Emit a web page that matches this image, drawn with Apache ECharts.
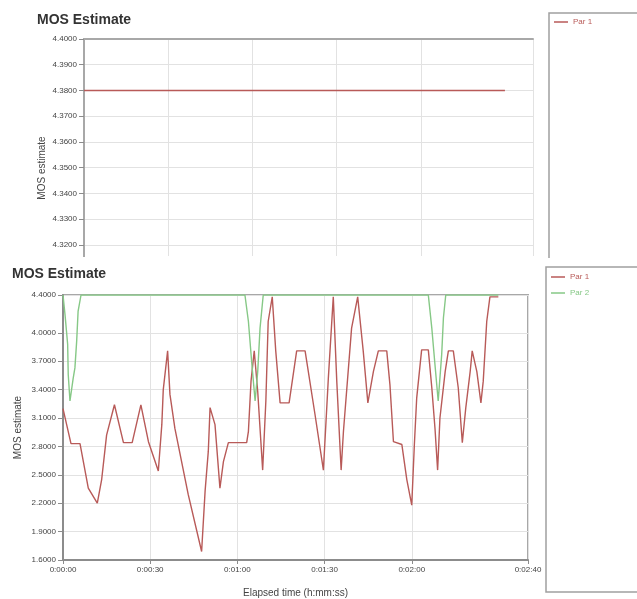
<!DOCTYPE html>
<html>
<head>
<meta charset="utf-8">
<script src="https://cdn.jsdelivr.net/npm/echarts@6/dist/echarts.min.js"></script>
<style>
html,body{margin:0;padding:0;background:#fff;}
#c{width:637px;height:599px;}
</style>
</head>
<body>
<div id="c"></div>
<script>
// ---- data ----
var xTickValues = [0, 30, 60, 90, 120, 160];
var topYTickValues = [4.32, 4.33, 4.34, 4.35, 4.36, 4.37, 4.38, 4.39, 4.40];
var bottomYTickValues = [1.6, 1.9, 2.2, 2.5, 2.8, 3.1, 3.4, 3.7, 4.0, 4.4];

var topPar1Times = [0, 150];
var topPar1Values = [4.38, 4.38];

var par1Times = [0, 2.75, 5.85, 8.7, 11.8, 13.3, 15.0, 17.7, 20.8, 23.8, 26.8, 29.4, 32.8, 34.0, 34.5, 36.0, 36.8, 38.5, 43.1, 47.7, 48.9, 50.0, 50.6, 51.2, 52.3, 54.0, 55.2, 56.9, 63.2, 63.8, 64.7, 65.8, 67.0, 68.7, 69.8, 70.6, 72.0, 73.2, 74.7, 77.8, 80.4, 83.3, 86.7, 89.6, 91.3, 93.0, 94.2, 95.7, 96.5, 99.3, 101.4, 103.3, 104.9, 106.8, 108.5, 111.4, 112.5, 113.7, 116.6, 118.3, 120.0, 120.9, 121.7, 123.4, 125.7, 126.9, 128.0, 128.9, 129.7, 131.5, 132.6, 134.3, 136.0, 137.4, 138.6, 140.1, 140.8, 142.4, 143.8, 144.6, 145.8, 146.9, 149.8];
var par1Values = [3.20, 2.83, 2.83, 2.36, 2.20, 2.45, 2.92, 3.24, 2.84, 2.84, 3.24, 2.85, 2.54, 3.03, 3.40, 3.81, 3.35, 2.99, 2.29, 1.69, 2.33, 2.75, 3.21, 3.22, 3.03, 2.36, 2.64, 2.84, 2.84, 2.96, 3.49, 3.81, 3.38, 2.55, 3.28, 4.12, 4.38, 3.81, 3.26, 3.26, 3.81, 3.81, 3.14, 2.55, 3.52, 4.38, 3.49, 2.55, 2.96, 4.05, 4.38, 3.81, 3.26, 3.59, 3.81, 3.81, 3.45, 2.85, 2.82, 2.45, 2.18, 2.82, 3.31, 3.82, 3.82, 3.42, 2.99, 2.55, 3.10, 3.59, 3.81, 3.81, 3.42, 2.84, 3.21, 3.59, 3.81, 3.59, 3.26, 3.49, 4.12, 4.38, 4.38];

var par2Times = [0, 0.7, 1.6, 1.8, 2.4, 3.5, 4.1, 4.7, 5.2, 6.2, 62.6, 63.8, 64.9, 66.1, 67.0, 67.8, 68.9, 125.7, 126.9, 128.0, 129.1, 130.3, 130.9, 131.7, 149.8];
var par2Values = [4.40, 4.19, 3.88, 3.56, 3.28, 3.52, 3.63, 3.91, 4.23, 4.40, 4.40, 4.12, 3.70, 3.28, 3.59, 4.05, 4.40, 4.40, 4.05, 3.66, 3.28, 3.77, 4.16, 4.40, 4.40];

// ---- helpers ----
function zip(a, b) { return a.map(function (v, i) { return [v, b[i]]; }); }
function hms(s) {
  var h = Math.floor(s / 3600), m = Math.floor((s % 3600) / 60), sec = Math.round(s % 60);
  return h + ':' + (m < 10 ? '0' : '') + m + ':' + (sec < 10 ? '0' : '') + sec;
}
var RED = '#b85a58', GREEN = '#86c886';
var FONT = 'Liberation Sans, Arial, sans-serif';
var GRID_LINE = '#e2e2e2', AXIS_LINE = '#8c8c8c', BORDER = '#a8a8a8';

var chart = echarts.init(document.getElementById('c'), null, {renderer: 'canvas'});
chart.setOption({
  animation: false,
  textStyle: {fontFamily: FONT},
  title: [
    {text: 'MOS Estimate', left: 37, top: 13, padding: 0,
     textStyle: {fontSize: 14, fontWeight: 'bold', color: '#333', fontFamily: FONT}},
    {text: 'MOS Estimate', left: 12, top: 267, padding: 0,
     textStyle: {fontSize: 14, fontWeight: 'bold', color: '#333', fontFamily: FONT}}
  ],
  legend: [
    {left: 554, top: 18, padding: 0, itemWidth: 14, itemHeight: 1.5, icon: 'rect',
     data: [{name: 'Par 1', textStyle: {color: RED}}],
     textStyle: {fontSize: 8, fontFamily: FONT}, selectedMode: false},
    {left: 551, top: 273, padding: 0, orient: 'vertical', itemGap: 8, itemWidth: 14, itemHeight: 1.5, icon: 'rect',
     data: [{name: 'Par 1', textStyle: {color: RED}}, {name: 'Par 2', textStyle: {color: GREEN}}],
     textStyle: {fontSize: 8, fontFamily: FONT}, selectedMode: false}
  ],
  grid: [
    {left: 84, top: 39, right: 104, bottom: 343, show: false},
    {left: 63, top: 295, right: 109, bottom: 39, show: true, borderColor: BORDER, borderWidth: 2}
  ],
  xAxis: [
    {type: 'value', gridIndex: 0, min: 0, max: 160,
     axisLine: {show: false}, axisTick: {show: false, customValues: xTickValues},
     axisLabel: {show: false, customValues: xTickValues},
     splitLine: {show: true, lineStyle: {color: GRID_LINE, width: 1}}},
    {type: 'value', gridIndex: 0, position: 'top', min: 0, max: 160,
     axisLine: {show: true, lineStyle: {color: BORDER, width: 2}},
     axisTick: {show: false}, axisLabel: {show: false}, splitLine: {show: false}},
    {type: 'value', gridIndex: 1, min: 0, max: 160,
     name: 'Elapsed time (h:mm:ss)', nameLocation: 'middle', nameGap: 28,
     nameTextStyle: {fontSize: 10, color: '#444', fontFamily: FONT},
     axisLine: {show: true, onZero: false, lineStyle: {color: AXIS_LINE, width: 2}},
     axisTick: {show: true, length: 4, customValues: xTickValues, lineStyle: {color: AXIS_LINE}},
     axisLabel: {fontSize: 8, color: '#444', margin: 6, customValues: xTickValues, formatter: function (v) { return hms(v); }},
     splitLine: {show: true, lineStyle: {color: GRID_LINE, width: 1}}}
  ],
  yAxis: [
    {type: 'value', gridIndex: 0, min: 4.3157, max: 4.40,
     axisLine: {show: true, lineStyle: {color: AXIS_LINE, width: 2}},
     axisTick: {show: true, length: 5, customValues: topYTickValues, lineStyle: {color: AXIS_LINE}},
     axisLabel: {fontSize: 8, color: '#444', margin: 7, customValues: topYTickValues, formatter: function (v) { return v.toFixed(4); }},
     splitLine: {show: true, lineStyle: {color: GRID_LINE, width: 1}}},
    {type: 'value', gridIndex: 0, position: 'right', min: 4.3157, max: 4.40,
     axisLine: {show: true, lineStyle: {color: BORDER, width: 2}},
     axisTick: {show: false}, axisLabel: {show: false}, splitLine: {show: false}},
    {type: 'value', gridIndex: 1, min: 1.6, max: 4.4,
     name: 'MOS estimate', nameLocation: 'middle', nameGap: 40, nameMoveOverlap: false,
     nameTextStyle: {fontSize: 10, color: '#444', fontFamily: FONT},
     axisLine: {show: true, onZero: false, lineStyle: {color: AXIS_LINE, width: 2}},
     axisTick: {show: true, length: 5, customValues: bottomYTickValues, lineStyle: {color: AXIS_LINE}},
     axisLabel: {fontSize: 8, color: '#444', margin: 7, customValues: bottomYTickValues, formatter: function (v) { return v.toFixed(4); }},
     splitLine: {show: true, lineStyle: {color: GRID_LINE, width: 1}}}
  ],
  graphic: [
    {type: 'text', x: 42, y: 168, rotation: Math.PI / 2,
     style: {text: 'MOS estimate', fontSize: 10, fill: '#444', fontFamily: FONT, align: 'center', verticalAlign: 'middle'}},
    {type: 'polyline', shape: {points: [[549, 258], [549, 13], [640, 13]]},
     style: {stroke: '#a0a0a0', lineWidth: 1.5, fill: null}},
    {type: 'rect', shape: {x: 546, y: 267, width: 100, height: 325},
     style: {stroke: '#a0a0a0', lineWidth: 1.5, fill: null}}
  ],
  series: [
    {name: 'Par 1', type: 'line', xAxisIndex: 0, yAxisIndex: 0, showSymbol: false, symbol: 'none',
     data: zip(topPar1Times, topPar1Values), lineStyle: {color: RED, width: 1.4}, itemStyle: {color: RED}},
    {name: 'Par 1', type: 'line', xAxisIndex: 2, yAxisIndex: 2, showSymbol: false, symbol: 'none',
     data: zip(par1Times, par1Values), lineStyle: {color: RED, width: 1.4}, itemStyle: {color: RED}},
    {name: 'Par 2', type: 'line', xAxisIndex: 2, yAxisIndex: 2, showSymbol: false, symbol: 'none',
     data: zip(par2Times, par2Values), lineStyle: {color: GREEN, width: 1.4}, itemStyle: {color: GREEN}}
  ]
});
</script>
</body>
</html>
